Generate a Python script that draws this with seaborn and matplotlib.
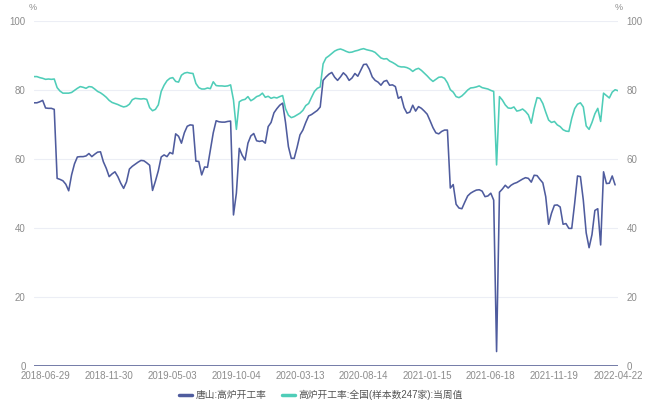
import numpy as np
import pandas as pd
import matplotlib
matplotlib.use("Agg")
import matplotlib.pyplot as plt
from matplotlib.lines import Line2D
import seaborn as sns

# ---------------- data ----------------
# weekly categories (one week missing around the 2020 Chinese New Year)
all_weeks = pd.date_range("2018-06-01", "2022-04-22", freq="W-FRI")
week_dates = [d for d in all_weeks if d != pd.Timestamp("2020-01-31")]

tick_labels = ["2018-06-29", "2018-11-30", "2019-05-03", "2019-10-04", "2020-03-13",
               "2020-08-14", "2021-01-15", "2021-06-18", "2021-11-19", "2022-04-22"]

tangshan = [
    76.2, 76.2, 76.5, 76.9, 74.7, 74.6, 74.6, 74.3, 54.3, 54.0,
    53.6, 52.6, 50.7, 55.3, 58.5, 60.5, 60.6, 60.6, 60.8, 61.5,
    60.6, 61.3, 61.9, 62.0, 59.1, 57.2, 54.8, 55.6, 56.2, 54.8,
    52.9, 51.4, 53.3, 57.0, 57.8, 58.4, 59.0, 59.5, 59.4, 58.8,
    58.1, 50.8, 53.5, 56.5, 60.5, 61.1, 60.6, 61.8, 61.4, 67.2,
    66.5, 64.5, 67.5, 69.4, 69.8, 69.7, 59.3, 59.2, 55.3, 57.6,
    57.5, 62.5, 67.5, 71.0, 70.7, 70.6, 70.6, 70.8, 70.9, 43.7,
    50.0, 63.0, 61.0, 59.6, 64.5, 66.6, 67.3, 65.2, 65.0, 65.2,
    64.5, 69.3, 70.5, 73.3, 74.5, 75.5, 76.1, 70.5, 63.5, 60.1,
    60.1, 63.3, 66.9, 68.3, 70.5, 72.4, 72.8, 73.4, 74.0, 75.0,
    82.7, 83.7, 84.5, 85.0, 83.6, 82.7, 83.7, 84.9, 84.1, 82.7,
    83.4, 84.7, 83.9, 85.6, 87.3, 87.4, 85.9, 83.7, 82.7, 82.2,
    81.3, 82.4, 82.7, 81.3, 81.4, 80.9, 77.5, 78.0, 74.8, 73.2,
    73.5, 75.5, 73.8, 75.1, 74.6, 73.8, 72.9, 71.0, 69.0, 67.5,
    67.2, 67.9, 68.3, 68.3, 51.5, 52.5, 46.8, 45.7, 45.5, 47.4,
    49.2, 50.0, 50.5, 50.9, 51.0, 50.6, 49.0, 49.2, 50.0, 48.0,
    4.1, 50.3, 51.2, 52.3, 51.5, 52.3, 52.8, 53.1, 53.6, 54.1,
    54.5, 54.3, 53.2, 55.2, 55.1, 54.0, 53.0, 49.0, 41.0, 44.2,
    46.5, 46.6, 46.0, 41.0, 41.2, 39.8, 39.8, 47.0, 55.0, 54.8,
    48.0, 38.5, 34.2, 38.0, 45.0, 45.5, 35.0, 56.2, 52.8, 52.9,
    55.0, 52.4, np.nan,
]

national = [
    83.8, 83.8, 83.5, 83.3, 83.0, 83.1, 83.0, 83.1, 80.6, 79.6,
    79.0, 79.0, 79.0, 79.2, 79.8, 80.4, 80.9, 80.7, 80.4, 80.9,
    80.8, 80.2, 79.5, 79.1, 78.5, 77.8, 76.9, 76.3, 76.0, 75.7,
    75.3, 75.0, 75.2, 75.8, 77.1, 77.5, 77.4, 77.3, 77.4, 77.2,
    74.8, 73.9, 74.3, 75.6, 79.5, 81.3, 82.6, 83.3, 83.5, 82.4,
    82.2, 84.2, 84.8, 85.0, 84.8, 84.7, 81.8, 80.6, 80.2, 80.2,
    80.5, 80.3, 82.3, 81.2, 81.1, 81.1, 81.0, 81.1, 81.4, 77.0,
    68.5, 76.5, 77.0, 77.2, 78.0, 76.8, 77.3, 78.0, 78.3, 79.0,
    77.8, 78.1, 77.5, 77.8, 77.6, 78.0, 78.3, 74.5, 72.6, 71.9,
    72.2, 72.7, 73.2, 74.0, 75.4, 76.0, 77.8, 79.5, 80.4, 80.8,
    87.5, 89.2, 89.8, 90.5, 91.2, 91.6, 91.8, 91.5, 91.1, 90.8,
    90.9, 91.2, 91.4, 91.7, 91.9, 91.6, 91.4, 91.2, 90.8, 90.0,
    89.2, 88.9, 89.0, 88.3, 87.9, 87.4, 86.8, 86.6, 86.6, 86.4,
    86.0, 85.3, 85.9, 86.2, 85.6, 84.8, 84.0, 83.1, 82.4, 83.0,
    83.6, 83.7, 83.3, 82.0, 80.0, 79.3, 78.0, 77.7, 78.2, 79.0,
    79.9, 80.5, 80.6, 80.8, 81.1, 80.6, 80.4, 80.2, 79.8, 79.5,
    58.2, 78.0, 77.0, 75.6, 74.7, 74.6, 75.0, 73.8, 74.0, 74.4,
    73.7, 72.7, 70.3, 74.5, 77.7, 77.5, 76.0, 73.5, 71.2, 70.5,
    70.8, 69.8, 69.3, 68.4, 68.0, 67.9, 71.7, 74.5, 75.8, 76.2,
    75.0, 69.5, 68.5, 70.5, 73.0, 74.6, 70.8, 79.0, 78.3, 77.6,
    79.3, 80.0, 79.7,
]

name_a = "唐山:高炉开工率"
name_b = "高炉开工率:全国(样本数247家):当周值"

df = pd.DataFrame({"idx": np.arange(len(week_dates)),
                   "date": [d.strftime("%Y-%m-%d") for d in week_dates],
                   name_a: tangshan, name_b: national})

# ---------------- style ----------------
sns.set_theme(style="white")
plt.rcParams["font.family"] = ["Liberation Sans", "Noto Sans CJK SC", "DejaVu Sans"]

c_blue = "#4f5c9e"
c_teal = "#4fcdb8"
grid_c = "#eceef5"
tick_c = "#8c8c8c"

fig = plt.figure(figsize=(6.51, 4.07), dpi=100)
ax = fig.add_axes([34 / 651, 1 - 365.7 / 407, 584 / 651, 345 / 407])
ax2 = ax.twinx()

sns.lineplot(data=df, x="idx", y=name_b, ax=ax, color=c_teal, linewidth=1.15, legend=False)
sns.lineplot(data=df, x="idx", y=name_a, ax=ax, color=c_blue, linewidth=1.15, legend=False)

n = len(df)
for a in (ax, ax2):
    a.set_xlim(0, n - 1)
    a.set_ylim(0, 100)
    a.set_yticks([0, 20, 40, 60, 80, 100])
    for s in a.spines.values():
        s.set_visible(False)
    a.set_xlabel("")
    a.set_ylabel("")

ax.grid(axis="y", color=grid_c, linewidth=0.8)
ax.set_axisbelow(True)
ax.axhline(0, color="#5c6598", linewidth=1.2, zorder=1)

tick_pos = [df.index[df["date"] == t][0] for t in tick_labels]
ax.set_xticks(tick_pos)
ax.set_xticklabels(tick_labels)
ax.tick_params(axis="x", length=0, pad=4, labelsize=7, colors=tick_c)
ax.tick_params(axis="y", length=0, pad=6, labelsize=7, colors=tick_c)
ax2.tick_params(axis="y", length=0, pad=6, labelsize=7, colors=tick_c)
ax2.set_yticklabels(["0", "20", "40", "60", "80", "100"])

fig.text(33 / 651, 1 - 8 / 407, "%", fontsize=6.5, color=tick_c, ha="center", va="center")
fig.text(619 / 651, 1 - 8 / 407, "%", fontsize=6.5, color=tick_c, ha="center", va="center")

handles = [Line2D([0], [0], color=c_blue, linewidth=2.5),
           Line2D([0], [0], color=c_teal, linewidth=2.5)]
fig.legend(handles, [name_a, name_b], loc="center", bbox_to_anchor=(321 / 651, 1 - 395 / 407),
           ncol=2, frameon=False, fontsize=7, handlelength=1.3, handletextpad=0.4,
           columnspacing=1.6, labelcolor="#555555")

fig.savefig("out.png", dpi=100)
